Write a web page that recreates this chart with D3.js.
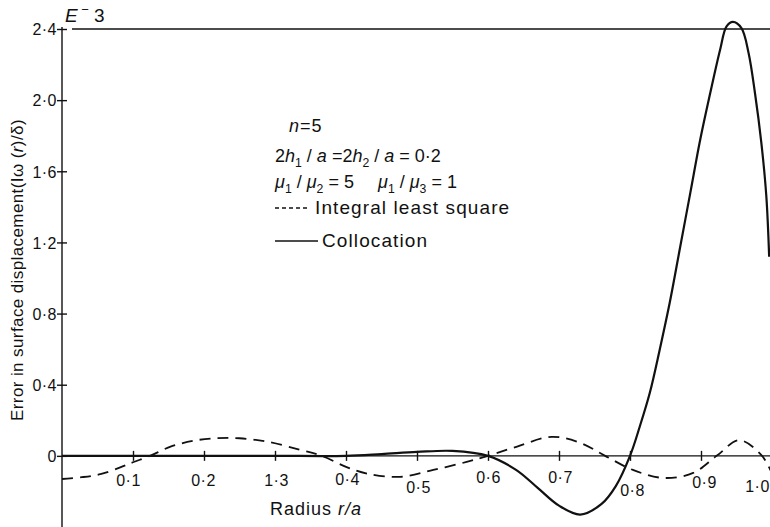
<!DOCTYPE html>
<html>
<head>
<meta charset="utf-8">
<script src="https://cdn.jsdelivr.net/npm/d3@7"></script>
<style>
  html, body { margin: 0; padding: 0; background: #fff; }
  svg { display: block; }
  text { font-family: "Liberation Sans", Arial, sans-serif; fill: #111; }
  .tick text { font-size: 16px; letter-spacing: 0.5px; }
  .axis path, .axis line { stroke: #111; stroke-width: 1.4; }
</style>
</head>
<body>
<svg id="chart" width="770" height="527"></svg>
<script>
// data (r/a vs error, units of E-3)
const yTicks = [0, 0.4, 0.8, 1.2, 1.6, 2.0, 2.4];
const yTickLabels = ['0', '0·4', '0·8', '1·2', '1·6', '2·0', '2·4'];
const xTicks = [0.1, 0.2, 0.3, 0.4, 0.5, 0.6, 0.7, 0.8, 0.9, 1.0];
const xTickLabels = ['0·1', '0·2', '1·3', '0·4', '0·5', '0·6', '0·7', '0·8', '0·9', '1·0'];

// integral least square (dashed)
const lsqR   = [0, 0.028, 0.054, 0.082, 0.1, 0.124, 0.152, 0.185, 0.218, 0.25, 0.29, 0.335, 0.366, 0.40, 0.43, 0.476, 0.523, 0.57, 0.6, 0.64, 0.69, 0.73, 0.765, 0.804, 0.847, 0.889, 0.922, 0.954, 0.986, 1.0];
const lsqErr = [-0.13, -0.12, -0.103, -0.065, -0.036, 0, 0.05, 0.085, 0.099, 0.099, 0.079, 0.034, 0, -0.062, -0.1, -0.118, -0.079, -0.034, 0, 0.051, 0.107, 0.073, 0, -0.079, -0.124, -0.096, 0, 0.088, 0, -0.1];

// collocation (solid)
const colR   = [0, 0.1, 0.2, 0.3, 0.4, 0.45, 0.5, 0.55, 0.6, 0.64, 0.67, 0.7, 0.73, 0.76, 0.78, 0.8, 0.814, 0.828, 0.842, 0.856, 0.87, 0.885, 0.899, 0.913, 0.927, 0.936, 0.945, 0.957, 0.967, 0.976, 0.985, 0.992, 0.996];
const colErr = [0, 0, 0, 0, 0, 0.01, 0.022, 0.028, 0, -0.08, -0.18, -0.28, -0.33, -0.27, -0.17, 0, 0.168, 0.356, 0.6, 0.862, 1.16, 1.48, 1.78, 2.04, 2.285, 2.415, 2.44, 2.405, 2.265, 2.04, 1.76, 1.46, 1.12];

// label nudges (the printed labels wander up and down)
const xLabelShift = [[-5, 0], [-1, 0], [1, 0], [1, -1], [1, 7], [0, -3], [1, -3], [2, 10], [3, 2], [-15, 6]];

const svg = d3.select('#chart');
const x = d3.scaleLinear().domain([0, 1]).range([62, 772]);
const y = d3.scaleLinear().domain([-0.4, 2.4]).range([527, 29]);

// y axis, ticks crossing both sides
const gy = svg.append('g').attr('class', 'axis').attr('transform', `translate(${x(0)},0)`)
  .call(d3.axisLeft(y).tickValues(yTicks).tickSizeOuter(0).tickSize(5).tickPadding(6)
    .tickFormat((d, i) => yTickLabels[i]));
gy.selectAll('.tick line').attr('x1', -5).attr('x2', 5);
gy.selectAll('.tick text').attr('x', -5).attr('dy', '0.36em');
gy.select('.domain').attr('d', `M0,${y(2.4) - 2}V527`);

// x axis along zero
const gx = svg.append('g').attr('class', 'axis').attr('transform', `translate(0,${y(0)})`)
  .call(d3.axisBottom(x).tickValues(xTicks).tickSizeOuter(0).tickSize(5)
    .tickFormat((d, i) => xTickLabels[i]));
gx.selectAll('.tick line').attr('y1', -5).attr('y2', 5);
gx.selectAll('.tick text').attr('y', 24).attr('dy', '0.36em')
  .attr('dx', (d, i) => xLabelShift[i][0])
  .attr('transform', (d, i) => `translate(0,${xLabelShift[i][1]})`);
gx.select('.domain').attr('d', `M${x(0)},0H770`);

// top rule at 2.4
svg.append('line').attr('x1', x(0) + 10).attr('x2', 770)
  .attr('y1', y(2.4)).attr('y2', y(2.4)).attr('stroke', '#111').attr('stroke-width', 1.4);

const line = d3.line().x(d => x(d[0])).y(d => y(d[1])).curve(d3.curveCatmullRom.alpha(0.5));

svg.append('path').datum(lsqR.map((r, i) => [r, lsqErr[i]]))
  .attr('d', line).attr('fill', 'none').attr('stroke', '#111')
  .attr('stroke-width', 1.8).attr('stroke-dasharray', '11,7');

svg.append('path').datum(colR.map((r, i) => [r, colErr[i]]))
  .attr('d', line).attr('fill', 'none').attr('stroke', '#111').attr('stroke-width', 2.2);

// text with italic / sub / sup runs
function rich(g, xPos, yPos, parts, size) {
  const t = g.append('text').attr('x', xPos).attr('y', yPos).style('font-size', size + 'px');
  let shift = 0;
  parts.forEach(p => {
    const s = t.append('tspan').text(p[0]);
    const kind = p[1] || '';
    let target = 0;
    if (kind.includes('sub')) target = size * 0.28;
    if (kind.includes('sup')) target = -size * 0.4;
    if (target !== shift) { s.attr('dy', target - shift); shift = target; }
    if (kind.includes('sub') || kind.includes('sup')) s.style('font-size', (size * 0.68) + 'px');
    if (kind.includes('i')) s.style('font-style', 'italic');
  });
  return t;
}

// E-3 multiplier
rich(svg, 65, 22, [['E', 'i'], [' \u2212', 'sup'], [' 3']], 19);

// axis titles
rich(svg, 270, 515, [['Radius '], ['r/a', 'i']], 18).style('letter-spacing', '1px');
rich(svg.append('g').attr('transform', 'translate(23,270) rotate(-90)'), 0, 0,
  [['Error in surface displacement(I'], ['\u03c9', ''], [' ('], ['r', 'i'], [')/\u03b4)']], 17)
  .attr('text-anchor', 'middle').style('letter-spacing', '0.4px');

// annotation block
const note = svg.append('g');
rich(note, 289, 132, [['n', 'i'], ['=5']], 18).style('letter-spacing', '1px');
rich(note, 275, 162, [['2'], ['h', 'i'], ['1', 'sub'], [' / '], ['a', 'i'], [' =2'], ['h', 'i'], ['2', 'sub'],
  [' / '], ['a', 'i'], [' = 0·2']], 18);
rich(note, 275, 188, [['\u03bc', 'i'], ['1', 'sub'], [' / '], ['\u03bc', 'i'], ['2', 'sub'], [' = 5']], 18);
rich(note, 378, 188, [['\u03bc', 'i'], ['1', 'sub'], [' / '], ['\u03bc', 'i'], ['3', 'sub'], [' = 1']], 18);
note.append('line').attr('x1', 275).attr('x2', 309).attr('y1', 208).attr('y2', 208)
  .attr('stroke', '#111').attr('stroke-width', 1.6).attr('stroke-dasharray', '4,3');
rich(note, 315, 214, [['Integral least square']], 19).style('letter-spacing', '1.1px');
note.append('line').attr('x1', 275).attr('x2', 318).attr('y1', 241).attr('y2', 241)
  .attr('stroke', '#111').attr('stroke-width', 1.6);
rich(note, 322, 247, [['Collocation']], 19).style('letter-spacing', '1.1px');
</script>
</body>
</html>
